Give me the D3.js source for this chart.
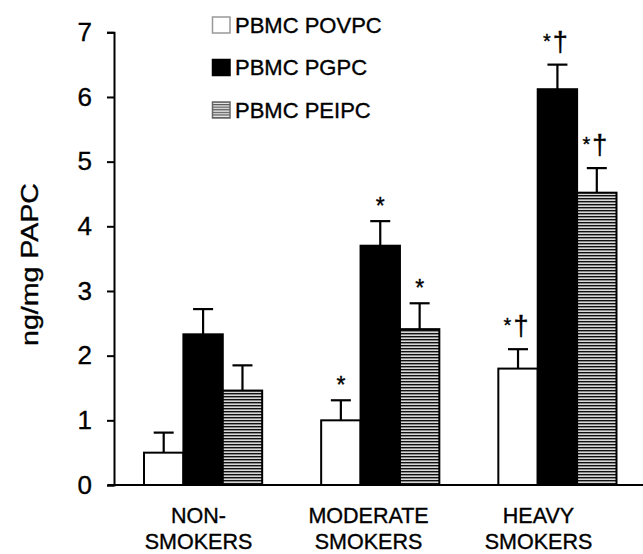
<!DOCTYPE html>
<html>
<head>
<meta charset="utf-8">
<script src="https://cdn.jsdelivr.net/npm/d3@7/dist/d3.min.js"></script>
<style>
  html, body { margin: 0; padding: 0; background: #fff; }
  svg { display: block; font-family: "Liberation Sans", Arial, Helvetica, sans-serif; }
  svg text { stroke: #000; stroke-width: 0.35px; }
</style>
</head>
<body>
<svg id="chart" width="643" height="554"></svg>
<script>
// ---- data ----
const categories = ["NON-SMOKERS", "MODERATE SMOKERS", "HEAVY SMOKERS"];
const categoryLines = [["NON-", "SMOKERS"], ["MODERATE", "SMOKERS"], ["HEAVY", "SMOKERS"]];
const seriesNames = ["PBMC POVPC", "PBMC PGPC", "PBMC PEIPC"];
const povpcValues = [0.5, 1.0, 1.8];
const povpcErrors = [0.31, 0.31, 0.30];
const pgpcValues = [2.33, 3.70, 6.12];
const pgpcErrors = [0.39, 0.38, 0.38];
const peipcValues = [1.46, 2.41, 4.52];
const peipcErrors = [0.39, 0.40, 0.38];
const povpcMarks = ["", "*", "*\u2020"];
const pgpcMarks = ["", "*", "*\u2020"];
const peipcMarks = ["", "*", "*\u2020"];
const yTicks = [0, 1, 2, 3, 4, 5, 6, 7];
const yLabel = "ng/mg PAPC";

// ---- build table ----
const seriesValues = [povpcValues, pgpcValues, peipcValues];
const seriesErrors = [povpcErrors, pgpcErrors, peipcErrors];
const seriesMarks = [povpcMarks, pgpcMarks, peipcMarks];
const fills = ["#ffffff", "#000000", "url(#stripes)"];

const table = [];
categories.forEach((c, ci) => {
  seriesNames.forEach((s, si) => {
    table.push({ cat: c, series: s, si, value: seriesValues[si][ci], err: seriesErrors[si][ci], mark: seriesMarks[si][ci] });
  });
});

const svg = d3.select("#chart");

// pattern
const defs = svg.append("defs");
const pat = defs.append("pattern").attr("id", "stripes").attr("patternUnits", "userSpaceOnUse")
  .attr("width", 6).attr("height", 3);
pat.append("rect").attr("width", 6).attr("height", 3).attr("fill", "#d8d8d8");
pat.append("rect").attr("y", 0).attr("width", 6).attr("height", 1.4).attr("fill", "#111");

const lpat = defs.append("pattern").attr("id", "lstripes").attr("patternUnits", "userSpaceOnUse")
  .attr("width", 6).attr("height", 2.6);
lpat.append("rect").attr("width", 6).attr("height", 2.6).attr("fill", "#e8e8e8");
lpat.append("rect").attr("width", 6).attr("height", 1.2).attr("fill", "#555");

// scales
const y = d3.scaleLinear().domain([0, 7]).range([485, 32.3]);
const x0 = d3.scaleBand().domain(categories).range([115, 645.5]).paddingInner(0.333).paddingOuter(0.1637);
const x1 = d3.scaleBand().domain(seriesNames).range([0, x0.bandwidth()]);
const xLabel = d3.scaleBand().domain(categories).range([113.5, 623.5]);

// x baseline
svg.append("line").attr("x1", 108).attr("x2", 643).attr("y1", y(0)).attr("y2", y(0))
  .attr("stroke", "#000").attr("stroke-width", 2);

// bars
const bars = svg.append("g");
bars.selectAll("rect").data(table).join("rect")
  .attr("x", d => x0(d.cat) + x1(d.series))
  .attr("y", d => y(d.value))
  .attr("width", x1.bandwidth())
  .attr("height", d => y(0) - y(d.value))
  .attr("fill", d => fills[d.si])
  .attr("stroke", "#000")
  .attr("stroke-width", 2);

// error bars
const eb = svg.append("g").attr("stroke", "#000").attr("stroke-width", 2.2);
const capW = 20;
table.forEach(d => {
  const cx = x0(d.cat) + x1(d.series) + x1.bandwidth() / 2;
  eb.append("line").attr("x1", cx).attr("x2", cx).attr("y1", y(d.value)).attr("y2", y(d.value + d.err));
  eb.append("line").attr("x1", cx - capW / 2).attr("x2", cx + capW / 2).attr("y1", y(d.value + d.err)).attr("y2", y(d.value + d.err));
});

// significance marks
svg.append("g").selectAll("text").data(table.filter(d => d.mark)).join("text")
  .attr("x", d => x0(d.cat) + x1(d.series) + x1.bandwidth() / 2 - (d.mark.length > 1 ? 2 : 0))
  .attr("y", d => y(d.value + d.err) - (d.mark.length > 1 ? 14 : 7))
  .attr("text-anchor", "middle")
  .attr("font-size", 23)
  .attr("fill", "#000")
  .each(function(d) {
    const t = d3.select(this);
    if (d.mark.length > 1) {
      t.append("tspan").attr("font-size", 20).attr("dy", -3).text("*");
      t.append("tspan").attr("font-size", 27).attr("dx", 2).attr("dy", 3).text("\u2020");
    } else {
      t.text(d.mark);
    }
  });

// y axis
const yAxis = d3.axisLeft(y).tickValues(yTicks).tickFormat(d3.format("d")).tickSize(7).tickSizeOuter(7).tickPadding(15);
const gy = svg.append("g").attr("transform", "translate(114,0)").call(yAxis);
gy.select(".domain").attr("stroke", "#000").attr("stroke-width", 2);
gy.selectAll(".tick line").attr("stroke", "#000").attr("stroke-width", 2);
gy.selectAll(".tick text").attr("font-size", 26).attr("fill", "#000")
  .attr("font-family", "'Liberation Sans', Arial, sans-serif");

// y label
svg.append("text")
  .attr("transform", "translate(38,264.5) rotate(-90)")
  .attr("text-anchor", "middle")
  .attr("font-size", 24)
  .attr("textLength", 163)
  .attr("lengthAdjust", "spacingAndGlyphs")
  .attr("fill", "#000")
  .text(yLabel);

// x labels
const xl = svg.append("g");
categories.forEach((c, ci) => {
  const t = xl.append("text")
    .attr("x", xLabel(c) + xLabel.bandwidth() / 2)
    .attr("y", 523)
    .attr("text-anchor", "middle")
    .attr("font-size", 21.5)
    .attr("fill", "#000");
  categoryLines[ci].forEach((line, li) => {
    t.append("tspan").attr("x", xLabel(c) + xLabel.bandwidth() / 2).attr("y", 523 + li * 25.5).text(line);
  });
});

// legend
const legendFills = ["#ffffff", "#000000", "url(#lstripes)"];
const legendStroke = ["#999", "#000", "#666"];
const lg = svg.append("g");
seriesNames.forEach((s, i) => {
  const cy = 25 + i * 42.5;
  lg.append("rect").attr("x", 212.5).attr("y", cy - 8).attr("width", 17.5).attr("height", 16)
    .attr("fill", legendFills[i]).attr("stroke", legendStroke[i]).attr("stroke-width", 1.5);
  lg.append("text").attr("x", 235).attr("y", cy + 7.8).attr("font-size", 22).attr("fill", "#000").text(s);
});
</script>
</body>
</html>
